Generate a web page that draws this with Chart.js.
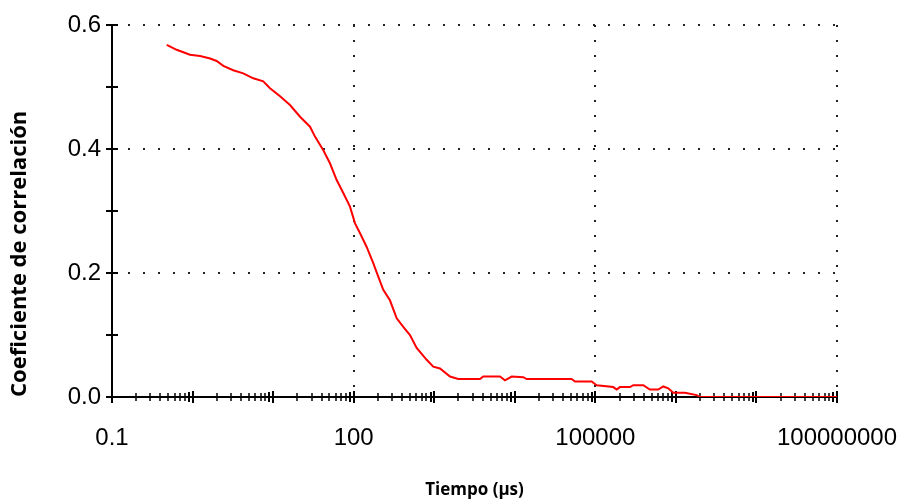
<!DOCTYPE html>
<html>
<head>
<meta charset="utf-8">
<script src="https://cdn.jsdelivr.net/npm/chart.js@4"></script>
<style>
  html, body { margin:0; padding:0; background:#fff; }
  #wrap { width:905px; height:501px; }
</style>
</head>
<body>
<div id="wrap"><canvas id="c" width="905" height="501"></canvas></div>
<script>
// tiempo en µs (eje log) y coeficiente de correlación
const tiempos = [0.478, 0.635, 0.929, 1.24, 1.65, 1.99, 2.41, 3.20, 4.26, 5.68, 7.55, 9.15,
  12.2, 16.2, 21.6, 28.7, 33.1, 42.0, 50.8, 61.5, 74.3, 90.0, 104, 120, 145, 175, 202, 233,
  282, 342, 413, 500, 605, 806, 973, 1180, 1570, 1990, 3700, 4060, 6550, 7550, 9150, 12750,
  14060, 50800, 55900, 90100, 103900, 167000, 184000, 202000, 269000, 296000, 394000,
  476000, 604000, 697000, 804000, 928000, 1296000, 1811000, 1991000, 100000000];
const coef = [0.568, 0.560, 0.552, 0.550, 0.546, 0.542, 0.534, 0.527, 0.522, 0.514, 0.509, 0.498,
  0.485, 0.471, 0.452, 0.436, 0.420, 0.398, 0.377, 0.350, 0.329, 0.307, 0.280, 0.264, 0.242,
  0.216, 0.194, 0.173, 0.156, 0.127, 0.113, 0.100, 0.079, 0.060, 0.049, 0.046, 0.033, 0.029,
  0.029, 0.033, 0.033, 0.027, 0.033, 0.032, 0.029, 0.029, 0.025, 0.025, 0.019, 0.016, 0.012,
  0.016, 0.016, 0.019, 0.019, 0.012, 0.012, 0.017, 0.014, 0.007, 0.007, 0.003, 0, 0];

const xLabels = [0.1, 100, 100000, 100000000];
const yLabels = [0, 0.2, 0.4, 0.6];
const yMinor = [0, 0.1, 0.2, 0.3, 0.4, 0.5, 0.6];
const xDecades = [-1, 0, 1, 2, 3, 4, 5, 6, 7, 8];

const DOTS = '#222';

// marcas de las escalas que cruzan los ejes
const axisMarks = {
  id: 'axisMarks',
  beforeDatasetsDraw(chart){
    const {ctx, scales:{x, y}} = chart;
    const x0 = x.left, y0 = y.bottom;
    ctx.save();
    ctx.strokeStyle = '#000';
    ctx.lineWidth = 2;
    yMinor.forEach(v => {
      const py = Math.round(y.getPixelForValue(v));
      ctx.beginPath(); ctx.moveTo(x0 - 6, py); ctx.lineTo(x0 + 6, py); ctx.stroke();
    });
    xDecades.forEach(k => {
      const base = Math.pow(10, k);
      const px = Math.round(x.getPixelForValue(base));
      ctx.lineWidth = 2;
      ctx.beginPath(); ctx.moveTo(px, y0 - 6); ctx.lineTo(px, y0 + 6); ctx.stroke();
      if (k === 8) return;
      for (let m = 2; m <= 9; m++){
        const pm = Math.round(x.getPixelForValue(m * base));
        ctx.lineWidth = m === 9 ? 2 : 1.5;
        const h = m === 9 ? 5 : 4;
        ctx.beginPath(); ctx.moveTo(pm, y0 - h); ctx.lineTo(pm, y0 + h); ctx.stroke();
      }
    });
    ctx.restore();
  }
};

new Chart(document.getElementById('c'), {
  type: 'scatter',
  data: {
    datasets: [{
      data: tiempos.map((t, i) => ({ x: t, y: coef[i] })),
      showLine: true, borderColor: '#ff0000', borderWidth: 2,
      pointRadius: 0, tension: 0
    }]
  },
  options: {
    responsive: false, animation: false,
    layout: { padding: { top: 25, right: 68, left: 0, bottom: 0 } },
    plugins: { legend: { display: false }, tooltip: { enabled: false } },
    scales: {
      x: {
        type: 'logarithmic', min: 0.1, max: 100000000,
        afterBuildTicks: s => { s.ticks = xLabels.map(v => ({ value: v })); },
        afterFit: s => { s.height = 104; s.paddingLeft = 0; s.paddingRight = 0; },
        ticks: {
          autoSkip: false, maxRotation: 0, padding: 27, color: '#000',
          font: { family: 'Liberation Sans', size: 24 },
          callback: v => v === 0.1 ? '0.1' : String(v)
        },
        grid: {
          drawTicks: false, lineWidth: 2,
          color: c => (c.tick && c.tick.value > 0.1) ? DOTS : 'rgba(0,0,0,0)'
        },
        border: { display: true, color: '#000', width: 2, dash: [2, 13] },
        title: {
          display: true, text: 'Tiempo (µs)', color: '#000',
          font: { family: 'Open Sans', size: 17, weight: 'bold' },
          padding: { top: 0, bottom: 1 }
        }
      },
      y: {
        min: 0, max: 0.6,
        afterBuildTicks: s => { s.ticks = yLabels.map(v => ({ value: v })); },
        afterFit: s => { s.width = 112; s.paddingTop = 0; s.paddingBottom = 0; },
        ticks: {
          padding: 11, color: '#000',
          font: { family: 'Liberation Sans', size: 24 },
          callback: v => v.toFixed(1)
        },
        grid: {
          drawTicks: false, lineWidth: 2,
          color: c => (c.tick && c.tick.value > 0) ? DOTS : 'rgba(0,0,0,0)'
        },
        border: { display: true, color: '#000', width: 2, dash: [2, 13] },
        title: {
          display: true, text: 'Coeficiente de correlación', color: '#000', align: 'start',
          font: { family: 'Open Sans', size: 22, weight: 'bold' },
          padding: { top: 7, bottom: 0 }
        }
      }
    }
  },
  plugins: [axisMarks]
});
</script>
</body>
</html>
